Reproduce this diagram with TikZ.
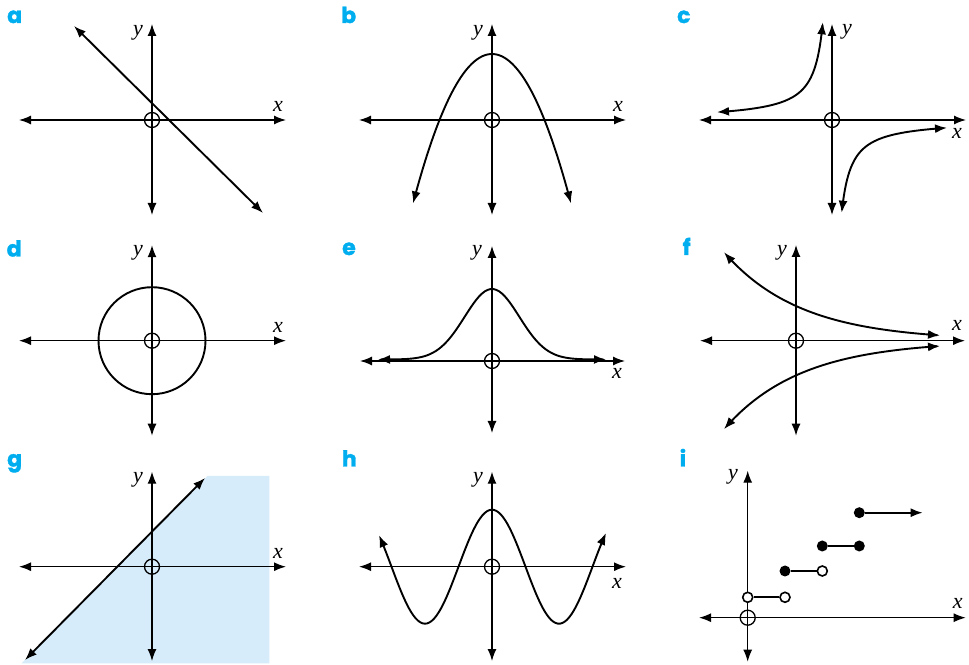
\documentclass[tikz,border=0pt]{standalone}
\usepackage{fontspec}
\usepackage{xcolor}
\usepackage{tikz}
\usetikzlibrary{arrows.meta}
\setmainfont{Liberation Serif}
\newfontfamily\panelfont{Poppins}[FakeBold=1.5]
\definecolor{panelblue}{RGB}{0,174,239}
\definecolor{shadeblue}{RGB}{214,236,250}
\tikzset{
  axis/.style={line width=1.3pt, {Latex[length=12pt,width=9pt]}-{Latex[length=12pt,width=9pt]}},
  curve/.style={line width=1.9pt, {Latex[length=12pt,width=9pt]}-{Latex[length=12pt,width=9pt]}},
  origin/.style={circle, draw, line width=1.3pt, minimum size=15pt, inner sep=0pt},
  axlabel/.style={font=\itshape\fontsize{22}{22}\selectfont, inner sep=0pt},
  panel/.style={font=\panelfont\bfseries\fontsize{22}{22}\selectfont, text=panelblue, anchor=base west, inner sep=0pt},
  opendot/.style={circle, draw, fill=white, line width=1.6pt, minimum size=10pt, inner sep=0pt},
  fulldot/.style={circle, fill=black, minimum size=11pt, inner sep=0pt},
  segment/.style={line width=1.9pt}
}
\begin{document}
\begin{tikzpicture}[x=1pt, y=1pt]
  \useasboundingbox (0,0) rectangle (969,664);

  % panel letters
  \node[panel] (la) at (7,641) {a};
  \node[panel] (lb) at (341,641) {b};
  \node[panel] (lc) at (677,641) {c};
  \node[panel] (ld) at (6.5,407.5) {d};
  \node[panel] (le) at (342,409) {e};
  \node[panel] (lf) at (682.5,409) {f};
  \node[panel] (lg) at (7,197.5) {g};
  \node[panel] (lh) at (341.7,197.5) {h};
  \node[panel] (li) at (679.5,197.5) {i};

  % a: straight line
  \begin{scope}[shift={(152,544)}]
    \draw[axis] (-133,0) -- (134,0);
    \draw[axis] (0,-95) -- (0,96);
    \node[origin] (oa) at (0,0) {};
    \node[axlabel] (xa) at (126,14) {x};
    \node[axlabel] (ya) at (-14,87) {y};
    \draw[curve] (-78,94) -- (111,-93);
  \end{scope}

  % b: parabola
  \begin{scope}[shift={(492,544)}]
    \draw[axis] (-133,0) -- (134,0);
    \draw[axis] (0,-95) -- (0,96);
    \node[origin] (ob) at (0,0) {};
    \node[axlabel] (xb) at (126,14) {x};
    \node[axlabel] (yb) at (-14,87) {y};
    \draw[curve] plot[domain=-79:79, samples=60, smooth] (\x, {66-66*(\x/52.5)^2});
  \end{scope}

  % c: hyperbola
  \begin{scope}[shift={(832,544)}]
    \draw[axis] (-133,0) -- (134,0);
    \draw[axis] (0,-95) -- (0,96);
    \node[origin] (oc) at (0,0) {};
    \node[axlabel] (xc) at (125,-13) {x};
    \node[axlabel] (yc) at (15,88) {y};
    \draw[curve] plot[domain=0:1, samples=60, smooth]
      ({-115*exp(-2.526*\x)}, {900/(115*exp(-2.526*\x))});
    \draw[curve] plot[domain=0:1, samples=60, smooth]
      ({115*exp(-2.473*\x)}, {-900/(115*exp(-2.473*\x))});
  \end{scope}

  % d: circle
  \begin{scope}[shift={(152,323.3)}]
    \draw[axis] (-133,0) -- (134,0);
    \draw[axis] (0,-95) -- (0,95.5);
    \node[origin] (od) at (0,0) {};
    \node[axlabel] (xd) at (126,13.7) {x};
    \node[axlabel] (yd) at (-14,87.7) {y};
    \draw[segment] (0,0) circle (53.5);
  \end{scope}

  % e: bell curve
  \begin{scope}[shift={(492,303)}]
    \draw[axis] (-132,0) -- (133,0);
    \draw[axis] (0,-72) -- (0,115);
    \node[origin] (oe) at (0,0) {};
    \node[axlabel] (xe) at (125,-12) {x};
    \node[axlabel] (ye) at (-15,108) {y};
    \draw[curve] plot[domain=-114:114, samples=80, smooth] (\x, {1.5+70.5*exp(-\x*\x/1490.6)});
  \end{scope}

  % f: exponentials
  \begin{scope}[shift={(796,323.3)}]
    \draw[axis] (-96,0) -- (169,0);
    \draw[axis] (0,-95) -- (0,95.7);
    \node[origin] (of) at (0,0) {};
    \node[axlabel] (xf) at (161,15.7) {x};
    \node[axlabel] (yf) at (-14,87.7) {y};
    \draw[curve] plot[domain=-72:144, samples=60, smooth] (\x, {34.7*exp(-0.013*\x)});
    \draw[curve] plot[domain=-72:144, samples=60, smooth] (\x, {-34.7*exp(-0.013*\x)});
  \end{scope}

  % g: shaded half plane
  \begin{scope}[shift={(152,97.3)}]
    \fill[shadeblue] (-130.4,-96.7) -- (55.3,90.7) -- (117.3,90.7) -- (117.3,-96.7) -- cycle;
    \draw[axis] (-133,0) -- (134,0);
    \draw[axis] (0,-94.3) -- (0,95);
    \node[origin] (og) at (0,0) {};
    \node[axlabel] (xg) at (126,13.7) {x};
    \node[axlabel] (yg) at (-14,86.7) {y};
    \draw[curve] (-127,-93.3) -- (53,88.7);
  \end{scope}

  % h: cosine
  \begin{scope}[shift={(492,97.3)}]
    \draw[axis] (-133,0) -- (134,0);
    \draw[axis] (0,-94.3) -- (0,95);
    \node[origin] (oh) at (0,0) {};
    \node[axlabel] (xh) at (125,-16.3) {x};
    \node[axlabel] (yh) at (-14,86.7) {y};
    \draw[curve] plot[domain=-113:114, samples=100, smooth] (\x, {57*cos(2.6866*\x)});
  \end{scope}

  % i: step function
  \begin{scope}[shift={(747.7,46.3)}]
    \draw[axis] (-48.7,0) -- (218,0);
    \draw[axis] (0,-44) -- (0,147);
    \node[origin] (oi) at (0,0) {};
    \node[axlabel] (xi) at (210,14.7) {x};
    \node[axlabel] (yi) at (-14.7,140.7) {y};
    \node[opendot] (s0) at (0,20.4) {};
    \node[opendot] (s1) at (37.3,20.4) {};
    \node[fulldot] (s2) at (37.3,46.7) {};
    \node[opendot] (s3) at (74.6,46.7) {};
    \node[fulldot] (s4) at (74.6,71.7) {};
    \node[fulldot] (s5) at (111.6,71.7) {};
    \node[fulldot] (s6) at (111.6,105) {};
    \coordinate (s7) at (175,105);
    \draw[segment] (s0) -- (s1);
    \draw[segment] (s2) -- (s3);
    \draw[segment] (s4) -- (s5);
    \draw[segment, -{Latex[length=12pt,width=9pt]}] (s6) -- (s7);
  \end{scope}
\end{tikzpicture}
\end{document}
